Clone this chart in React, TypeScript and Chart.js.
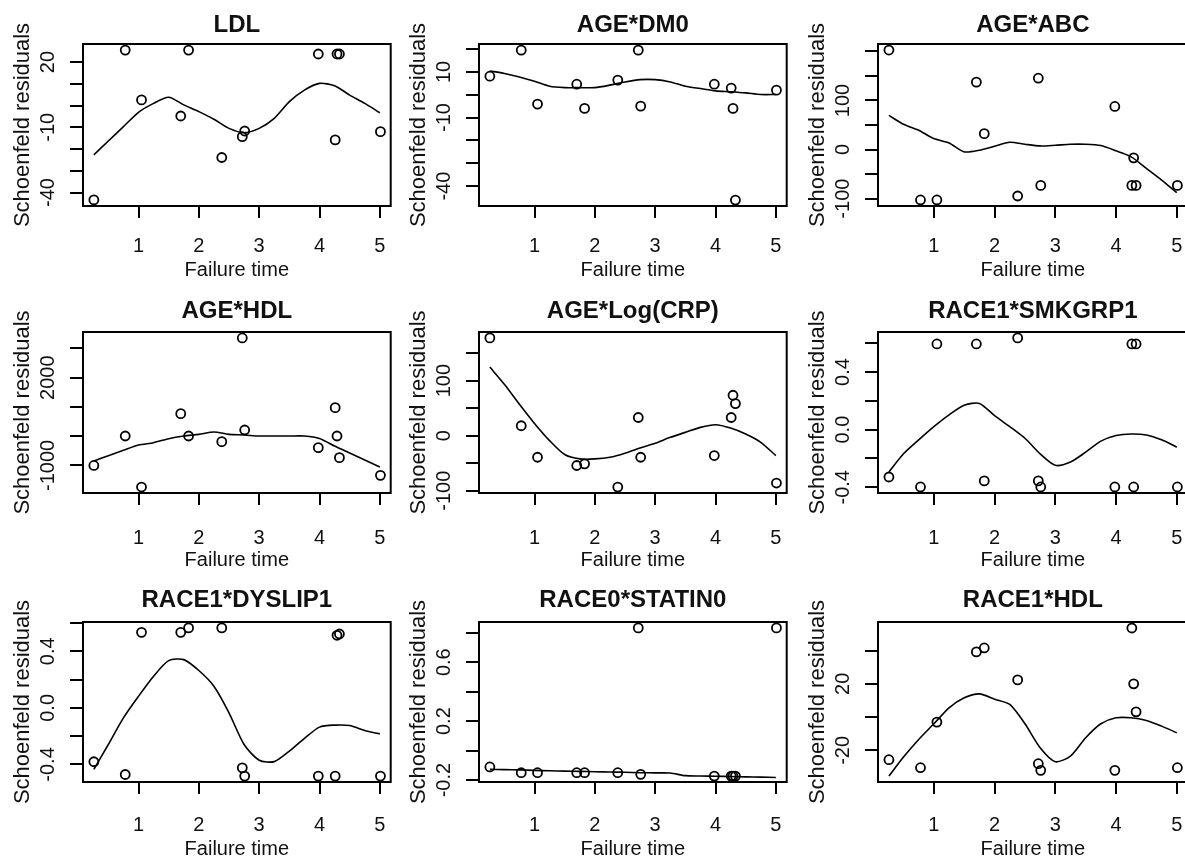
import React, { useEffect, useRef } from 'react';
import { Chart, registerables } from 'chart.js';

Chart.register(...registerables);

// ---------- shared data ----------
const failureTime = [0.26, 0.78, 1.05, 1.7, 1.83, 2.38, 2.72, 2.76, 3.98, 4.26, 4.29, 4.33, 5.01];
const smoothTime = [0.26, 0.5, 0.75, 1.0, 1.25, 1.5, 1.75, 2.0, 2.25, 2.5, 2.75, 3.0, 3.25, 3.5, 3.75, 4.0, 4.25, 4.5, 4.75, 5.0];
const xTicks = [1, 2, 3, 4, 5];
const xRange = [0.08, 5.18];

// ---------- panel 1: LDL ----------
const ldlResid = [-43.4, 25.5, 2.6, -4.8, 25.5, -23.9, -14.3, -11.7, 23.7, -15.8, 23.7, 23.7, -12.0];
const ldlSmooth = [-22.7, -16.3, -9.7, -3.1, 1.0, 3.8, 0.3, -2.8, -6.3, -10.5, -12.5, -10.5, -5.9, 1.8, 7.1, 10.2, 9.1, 4.8, 1.0, -3.3];
const ldlTicks = [20, 10, 0, -10, -20, -30, -40];
const ldlLabels = [20, -10, -40];
const ldlRange = [-46.2, 28.3];

// ---------- panel 2: AGE*DM0 ----------
const dm0Resid = [8.1, 19.5, -4.1, 4.6, -6.0, 6.4, 19.5, -5.0, 4.6, 2.9, -6.0, -46.1, 2.0];
const dm0Smooth = [10.4, 9.3, 7.8, 5.9, 3.7, 3.1, 3.1, 3.1, 4.2, 5.6, 6.6, 6.6, 5.6, 3.7, 2.7, 1.7, 1.3, 0.8, 0.1, 0.1];
const dm0Ticks = [20, 10, 0, -10, -20, -30, -40];
const dm0Labels = [10, -10, -40];
const dm0Range = [-48.7, 22.2];

// ---------- panel 3: AGE*ABC ----------
const abcResid = [202.7, -102.7, -102.7, 137.2, 32.4, -94.6, 145.3, -73.0, 87.8, -73.0, -16.9, -73.0, -73.0];
const abcSmooth = [69.6, 51.4, 39.2, 22.3, 13.5, -4.7, -1.4, 6.8, 14.9, 10.8, 7.4, 8.8, 10.8, 10.8, 8.1, -2.7, -14.9, -38.5, -62.2, -87.8];
const abcTicks = [200, 150, 100, 50, 0, -50, -100];
const abcLabels = [100, 0, -100];
const abcRange = [-115, 215];

// ---------- panel 4: AGE*HDL ----------
const ageHdlResid = [-1004, 3, -1742, 768, 3, -190, 3357, 209, -396, 972, 3, -738, -1343];
const ageHdlSmooth = [-852, -670, -487, -305, -225, -88, 3, 60, 140, 60, 38, 3, 3, 3, 3, -80, -340, -580, -820, -1060];
const ageHdlTicks = [3000, 2000, 1000, 0, -1000];
const ageHdlLabels = [2000, -1000];
const ageHdlRange = [-1946, 3561];

// ---------- panel 5: AGE*Log(CRP) ----------
const crpResid = [177.7, 18.1, -39.2, -54.2, -51.2, -93.4, 33.1, -39.2, -36.1, 33.1, 73.5, 58.4, -86.1];
const crpSmooth = [124.7, 93.4, 57.2, 22.3, -9.0, -34.3, -42.2, -42.2, -39.2, -31.9, -22.3, -13.9, -3.0, 6.0, 15.1, 19.9, 13.9, 3.0, -12.0, -36.1];
const crpTicks = [150, 100, 50, 0, -50, -100];
const crpLabels = [100, 0, -100];
const crpRange = [-104.2, 188.5];

// ---------- panel 6: RACE1*SMKGRP1 ----------
const smkResid = [-0.329, -0.398, 0.595, 0.595, -0.356, 0.637, -0.356, -0.398, -0.398, 0.595, -0.398, 0.595, -0.398];
const smkSmooth = [-0.294, -0.168, -0.071, 0.021, 0.103, 0.17, 0.182, 0.097, 0.021, -0.06, -0.168, -0.248, -0.225, -0.156, -0.08, -0.041, -0.03, -0.037, -0.071, -0.122];
const smkTicks = [0.6, 0.4, 0.2, 0, -0.2, -0.4];
const smkLabels = [0.4, 0, -0.4];
const smkRange = [-0.44, 0.678];

// ---------- panel 7: RACE1*DYSLIP1 ----------
const dysResid = [-0.381, -0.471, 0.534, 0.534, 0.565, 0.565, -0.424, -0.482, -0.482, -0.482, 0.513, 0.522, -0.482];
const dysSmooth = [-0.435, -0.259, -0.071, 0.082, 0.224, 0.334, 0.341, 0.264, 0.153, -0.035, -0.259, -0.37, -0.38, -0.306, -0.216, -0.136, -0.122, -0.125, -0.16, -0.184];
const dysTicks = [0.6, 0.4, 0.2, 0, -0.2, -0.4];
const dysLabels = [0.4, 0, -0.4];
const dysRange = [-0.524, 0.607];

// ---------- panel 8: RACE0*STATIN0 ----------
const statinResid = [-0.111, -0.15, -0.15, -0.15, -0.15, -0.15, 0.833, -0.161, -0.173, -0.173, -0.173, -0.173, 0.833];
const statinSmooth = [-0.127, -0.129, -0.131, -0.134, -0.137, -0.139, -0.141, -0.143, -0.145, -0.147, -0.15, -0.151, -0.152, -0.17, -0.172, -0.174, -0.176, -0.178, -0.18, -0.182];
const statinTicks = [0.8, 0.6, 0.4, 0.2, 0, -0.2];
const statinLabels = [0.6, 0.2, -0.2];
const statinRange = [-0.213, 0.873];

// ---------- panel 9: RACE1*HDL ----------
const raceHdlResid = [-25.6, -30.4, -3.0, 39.2, 41.6, 22.4, -28.0, -32.0, -32.0, 53.6, 20.0, 3.2, -30.4];
const raceHdlSmooth = [-35.4, -24, -13.4, -4, 5.6, 11.6, 14, 10.8, 7.6, -4, -18.4, -26.8, -23.4, -12.4, -4, -0.4, -0.4, -2, -5.4, -9.4];
const raceHdlTicks = [40, 20, 0, -20];
const raceHdlLabels = [20, -20];
const raceHdlRange = [-39, 57.2];

const xTitle = 'Failure time';
const yTitle = 'Schoenfeld residuals';

const panels = [
  { title: 'LDL', resid: ldlResid, smooth: ldlSmooth, ticks: ldlTicks, labels: ldlLabels, range: ldlRange, dec: 0 },
  { title: 'AGE*DM0', resid: dm0Resid, smooth: dm0Smooth, ticks: dm0Ticks, labels: dm0Labels, range: dm0Range, dec: 0 },
  { title: 'AGE*ABC', resid: abcResid, smooth: abcSmooth, ticks: abcTicks, labels: abcLabels, range: abcRange, dec: 0 },
  { title: 'AGE*HDL', resid: ageHdlResid, smooth: ageHdlSmooth, ticks: ageHdlTicks, labels: ageHdlLabels, range: ageHdlRange, dec: 0 },
  { title: 'AGE*Log(CRP)', resid: crpResid, smooth: crpSmooth, ticks: crpTicks, labels: crpLabels, range: crpRange, dec: 0 },
  { title: 'RACE1*SMKGRP1', resid: smkResid, smooth: smkSmooth, ticks: smkTicks, labels: smkLabels, range: smkRange, dec: 1 },
  { title: 'RACE1*DYSLIP1', resid: dysResid, smooth: dysSmooth, ticks: dysTicks, labels: dysLabels, range: dysRange, dec: 1 },
  { title: 'RACE0*STATIN0', resid: statinResid, smooth: statinSmooth, ticks: statinTicks, labels: statinLabels, range: statinRange, dec: 1 },
  { title: 'RACE1*HDL', resid: raceHdlResid, smooth: raceHdlSmooth, ticks: raceHdlTicks, labels: raceHdlLabels, range: raceHdlRange, dec: 0 },
];

// ---------- layout (absolute page pixels) ----------
const BOX_LEFT = [83, 479, 878];
const BOX_W = [308, 308, 310];
const BOX_TOP = [44, 332, 622];
const BOX_H = [162, 161, 160];
const TITLE_GAP = [12, 14, 15];
const XLAB_GAP = [46, 51, 49];
const XTITLE_GAP = [70, 73, 73];
const PAD_LEFT = 83;
const PAD_TOP = 44;
const PAD_BOTTOM = 84;
const PAD_RIGHT = 6;

const FONT = '"Liberation Sans", Arial, Helvetica, sans-serif';
const INK = '#111';

const rPlot = {
  id: 'rplot',
  afterDraw(chart: any, _args: any, opts: any) {
    const { ctx, chartArea: a, scales } = chart;
    const xs = scales.x;
    const ys = scales.y;
    ctx.save();
    ctx.strokeStyle = '#000';
    ctx.lineWidth = 2;
    ctx.strokeRect(a.left, a.top, a.right - a.left, a.bottom - a.top);
    ctx.fillStyle = INK;
    ctx.textAlign = 'center';
    ctx.textBaseline = 'alphabetic';
    const cx = (a.left + a.right) / 2;
    ctx.font = `bold 24px ${FONT}`;
    ctx.fillText(opts.title, cx, a.top - opts.titleGap);
    ctx.font = `20px ${FONT}`;
    for (const v of opts.xLabels) {
      ctx.fillText(String(v), xs.getPixelForValue(v), a.bottom + opts.xLabGap);
    }
    ctx.fillText(opts.xTitle, cx, a.bottom + opts.xTitleGap);
    for (const v of opts.yLabels) {
      ctx.save();
      ctx.translate(a.left - 29, ys.getPixelForValue(v));
      ctx.rotate(-Math.PI / 2);
      ctx.fillText(v.toFixed(opts.dec), 0, 0);
      ctx.restore();
    }
    ctx.save();
    ctx.font = `22px ${FONT}`;
    ctx.translate(a.left - 54, (a.top + a.bottom) / 2);
    ctx.rotate(-Math.PI / 2);
    ctx.fillText(opts.yTitle, 0, 0);
    ctx.restore();
    ctx.restore();
  },
};

function Panel({ idx }: { idx: number }) {
  const ref = useRef<HTMLCanvasElement | null>(null);
  const col = idx % 3;
  const row = Math.floor(idx / 3);
  const p = panels[idx];
  const width = PAD_LEFT + BOX_W[col] + PAD_RIGHT;
  const height = PAD_TOP + BOX_H[row] + PAD_BOTTOM;

  useEffect(() => {
    if (!ref.current) return;
    const chart = new Chart(ref.current, {
      type: 'scatter',
      data: {
        datasets: [
          {
            data: failureTime.map((t, i) => ({ x: t, y: p.resid[i] })),
            showLine: false,
            pointStyle: 'circle',
            pointRadius: 4.5,
            pointBorderWidth: 1.8,
            pointBorderColor: '#000',
            pointBackgroundColor: 'rgba(0,0,0,0)',
            borderColor: '#000',
            backgroundColor: 'rgba(0,0,0,0)',
          },
          {
            data: smoothTime.map((t, i) => ({ x: t, y: p.smooth[i] })),
            showLine: true,
            pointRadius: 0,
            borderColor: '#000',
            borderWidth: 1.6,
            tension: 0.25,
            fill: false,
          },
        ],
      },
      options: {
        animation: false,
        responsive: false,
        devicePixelRatio: 1,
        events: [],
        layout: { padding: { left: 0, top: PAD_TOP, right: PAD_RIGHT, bottom: 0 } },
        plugins: {
          legend: { display: false },
          tooltip: { enabled: false },
          title: { display: false },
          rplot: {
            title: p.title,
            xLabels: xTicks,
            yLabels: p.labels,
            dec: p.dec,
            xTitle,
            yTitle,
            titleGap: TITLE_GAP[row],
            xLabGap: XLAB_GAP[row],
            xTitleGap: XTITLE_GAP[row],
          },
        } as any,
        scales: {
          x: {
            type: 'linear',
            bounds: 'data',
            min: xRange[0],
            max: xRange[1],
            afterBuildTicks: (s: any) => {
              s.ticks = xTicks.map((v) => ({ value: v }));
            },
            afterFit: (s: any) => {
              s.height = PAD_BOTTOM;
            },
            ticks: { display: false },
            border: { display: false },
            grid: { drawOnChartArea: false, drawTicks: true, tickLength: 12, color: '#000', lineWidth: 2 },
          },
          y: {
            type: 'linear',
            bounds: 'data',
            min: p.range[0],
            max: p.range[1],
            afterBuildTicks: (s: any) => {
              s.ticks = p.ticks.map((v) => ({ value: v }));
            },
            afterFit: (s: any) => {
              s.width = PAD_LEFT;
            },
            ticks: { display: false },
            border: { display: false },
            grid: { drawOnChartArea: false, drawTicks: true, tickLength: 13, color: '#000', lineWidth: 2 },
          },
        },
      } as any,
      plugins: [rPlot as any],
    });
    return () => chart.destroy();
  }, [idx]);

  return (
    <canvas
      ref={ref}
      width={width}
      height={height}
      style={{
        position: 'absolute',
        left: BOX_LEFT[col] - PAD_LEFT,
        top: BOX_TOP[row] - PAD_TOP,
        width,
        height,
        display: 'block',
      }}
    />
  );
}

export default function App() {
  return (
    <div
      style={{
        position: 'fixed',
        left: 0,
        top: 0,
        width: 1185,
        height: 862,
        background: '#fff',
        overflow: 'hidden',
      }}
    >
      {panels.map((_, i) => (
        <Panel key={i} idx={i} />
      ))}
    </div>
  );
}
